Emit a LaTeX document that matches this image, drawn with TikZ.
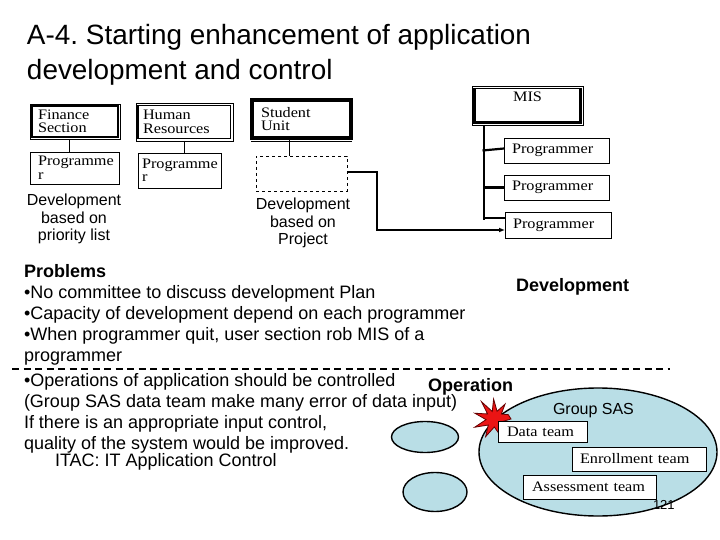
\documentclass[tikz,border=0pt]{standalone}
\usepackage{fontspec}
\setmainfont{Liberation Sans}
\newfontfamily\boxfont[FakeStretch=1.12]{Liberation Serif}
\usetikzlibrary{arrows.meta,calc,shapes.geometric}
\definecolor{elfill}{RGB}{185,222,230}
\definecolor{burstred}{RGB}{235,20,20}
\frenchspacing
\begin{document}
\begin{tikzpicture}[x=1pt,y=-1pt,
  every node/.style={inner sep=0pt, outer sep=0pt},
  txt/.style={anchor=base west, font=\fontsize{18}{21}\selectfont},
  btxt/.style={anchor=base west, font=\bfseries\fontsize{18}{21}\selectfont},
  ttl/.style={anchor=base west, font=\fontsize{27.9}{33}\selectfont},
  devtxt/.style={align=center, anchor=north, font=\fontsize{16}{17.5}\selectfont},
  orgbox/.style={draw, line width=0.6pt, anchor=north west, align=left, fill=white,
    font=\boxfont\fontsize{14.5}{13.5}\selectfont},
  conn/.style={line width=0.8pt},
  tree/.style={line width=2.2pt},
  ell/.style={draw, ellipse, fill=elfill, line width=1.4pt},
  burstst/.style={fill=burstred, draw=black!60!red, line width=0.8pt, line join=miter}
]
\useasboundingbox (0,0) rectangle (720,540);

% title
\node[ttl] (t1) at (27,45) {A-4. Starting enhancement of application};
\node[ttl] (t2) at (27,80) {development and control};

% organisation boxes
\node[orgbox, minimum width=90pt, minimum height=35pt, text width=74pt, inner xsep=8pt] (fin) at (30,104) {Finance\\Section};
\draw[line width=2pt] ([shift={(2.2,2.2)}]fin.north west) rectangle ([shift={(-2.2,-2.2)}]fin.south east);

\node[orgbox, minimum width=97pt, minimum height=38pt, text width=83pt, inner xsep=7pt] (hr) at (136,103) {Human\\Resources};
\draw[line width=0.7pt] ([shift={(2.2,2.2)}]hr.north west) rectangle ([shift={(-2.2,-2.2)}]hr.south east);
\draw[line width=2.4pt] ([shift={(2.2,2.2)}]hr.north west) -- ([shift={(2.2,-2.2)}]hr.south west);

\node[orgbox, line width=3.4pt, minimum width=99pt, minimum height=38pt, text width=81pt, inner xsep=9pt] (stu) at (252,100) {Student\\Unit};
\draw[line width=0.7pt] ([shift={(-1,3.5)}]stu.south west) -- ([shift={(1,3.5)}]stu.south east);

\node[orgbox, minimum width=111pt, minimum height=39pt] (mis) at (472,86) {};
\node[anchor=base, font=\boxfont\fontsize{14.5}{13.5}\selectfont] (mistxt) at ($(mis.north)+(0,16)$) {MIS};
\draw[line width=0.8pt] ([shift={(2.5,2.5)}]mis.north west) -- ([shift={(-2.5,2.5)}]mis.north east);
\draw[line width=3pt] ([shift={(2.5,2.5)}]mis.north west) |- ([shift={(-2.5,-2.5)}]mis.south east) -- ([shift={(-2.5,2.5)}]mis.north east);

% sub boxes
\node[orgbox, minimum width=89pt, minimum height=32pt, text width=73pt, inner xsep=8pt] (pl1) at (30,152) {Programme\\r};
\node[orgbox, minimum width=83pt, minimum height=35pt, text width=75pt, inner xsep=4pt] (pl2) at (138,153) {Programme\\r};
\node[draw, dashed, line width=0.6pt, anchor=north west, minimum width=91pt, minimum height=35pt] (dsh) at (256,156) {};

\draw[conn] ([xshift=-6pt]fin.south) -- ([xshift=-6pt]fin.south |- pl1.north);
\draw[conn] (hr.south) -- (hr.south |- pl2.north);
\draw[conn] ([xshift=-12.5pt]stu.south) -- ([xshift=-12.5pt]stu.south |- dsh.north);

\node[devtxt] (dev1) at (74,194) {Development\\based on\\priority list};
\node[devtxt] (dev2) at (303,198) {Development\\based on\\Project};

% programmers
\node[orgbox, minimum width=105pt, minimum height=25pt, text width=89pt, inner xsep=8pt] (p1) at (504,138) {Programmer};
\node[orgbox, minimum width=105pt, minimum height=25pt, text width=89pt, inner xsep=8pt] (p2) at (504,175) {Programmer};
\node[orgbox, minimum width=106pt, minimum height=26pt, text width=90pt, inner xsep=8pt] (p3) at (505,212) {Programmer};

\coordinate (tr) at ([xshift=12pt]mis.south west);
\draw[tree] (tr) -- ([yshift=-8pt]tr |- p3.north);
\draw[tree] ([xshift=-1.5pt]tr |- p1.west) -- ([yshift=2pt]p1.west);
\draw[tree] (tr |- p2.west) -- (p2.west);
\draw[tree] (tr |- 0,218) -- (p3.west |- 0,218);
\draw[tree, -{Latex[length=6pt,width=5pt]}] ([yshift=1.5pt]dsh.east) -- ++(30,0) |- ([yshift=-5pt]p3.west);

% problems text
\node[btxt] (prob) at (24,277) {Problems};
\node[txt] (l1) at (24,298) {\textbullet No committee to discuss development Plan};
\node[txt] (l2) at (24,319) {\textbullet Capacity of development depend on each programmer};
\node[txt] (l3) at (24,340) {\textbullet When programmer quit, user section rob MIS of a};
\node[txt] (l4) at (24,361) {programmer};
\node[btxt] (devl) at (516,291) {Development};

\draw[dash pattern=on 7pt off 4.5pt, line width=1.5pt] (12,369) -- (670,369);

\node[txt] (o1) at (24,386) {\textbullet Operations of application should be controlled};
\node[txt] (o2) at (24,407) {(Group SAS data team make many error of data input)};
\node[txt] (o3) at (24,428) {If there is an appropriate input control,};
\node[txt] (o4) at (24,449) {quality of the system would be improved.};
\node[btxt] (opl) at (428,391) {Operation};
\node[txt] (itac) at (55,466) {ITAC: IT Application Control};

% ellipses
\node[ell, minimum width=67pt, minimum height=31pt] (e1) at (425,437) {};
\node[ell, minimum width=64pt, minimum height=39pt] (e2) at (435,492) {};
\node[ell, minimum width=238pt, minimum height=128pt] (sas) at (598,452) {};

\draw[burstst, shift={(495,419)}] (0:16) -- (18:8) -- (38:17) -- (55:8) -- (75:15) -- (95:8)
  -- (118:20) -- (138:9) -- (158:22) -- (176:9) -- (196:21) -- (214:9) -- (232:22)
  -- (250:8) -- (266:20) -- (285:8) -- (304:18) -- (322:8) -- (342:14) -- cycle;

\node[anchor=base west, font=\fontsize{16}{18}\selectfont] (gsas) at (553,414) {Group SAS};
\node[orgbox, minimum width=89pt, minimum height=21pt, text width=71pt, inner xsep=9pt] (data) at (498,421) {Data team};
\node[orgbox, minimum width=134pt, minimum height=24pt, text width=118pt, inner xsep=8pt] (enr) at (572,447) {Enrollment team};
\node[orgbox, minimum width=133pt, minimum height=24pt, text width=115pt, inner xsep=9pt] (ass) at (523,475) {Assessment team};
\node[anchor=base west, font=\fontsize{13}{15}\selectfont] (pg) at (653,509) {121};
\end{tikzpicture}
\end{document}
